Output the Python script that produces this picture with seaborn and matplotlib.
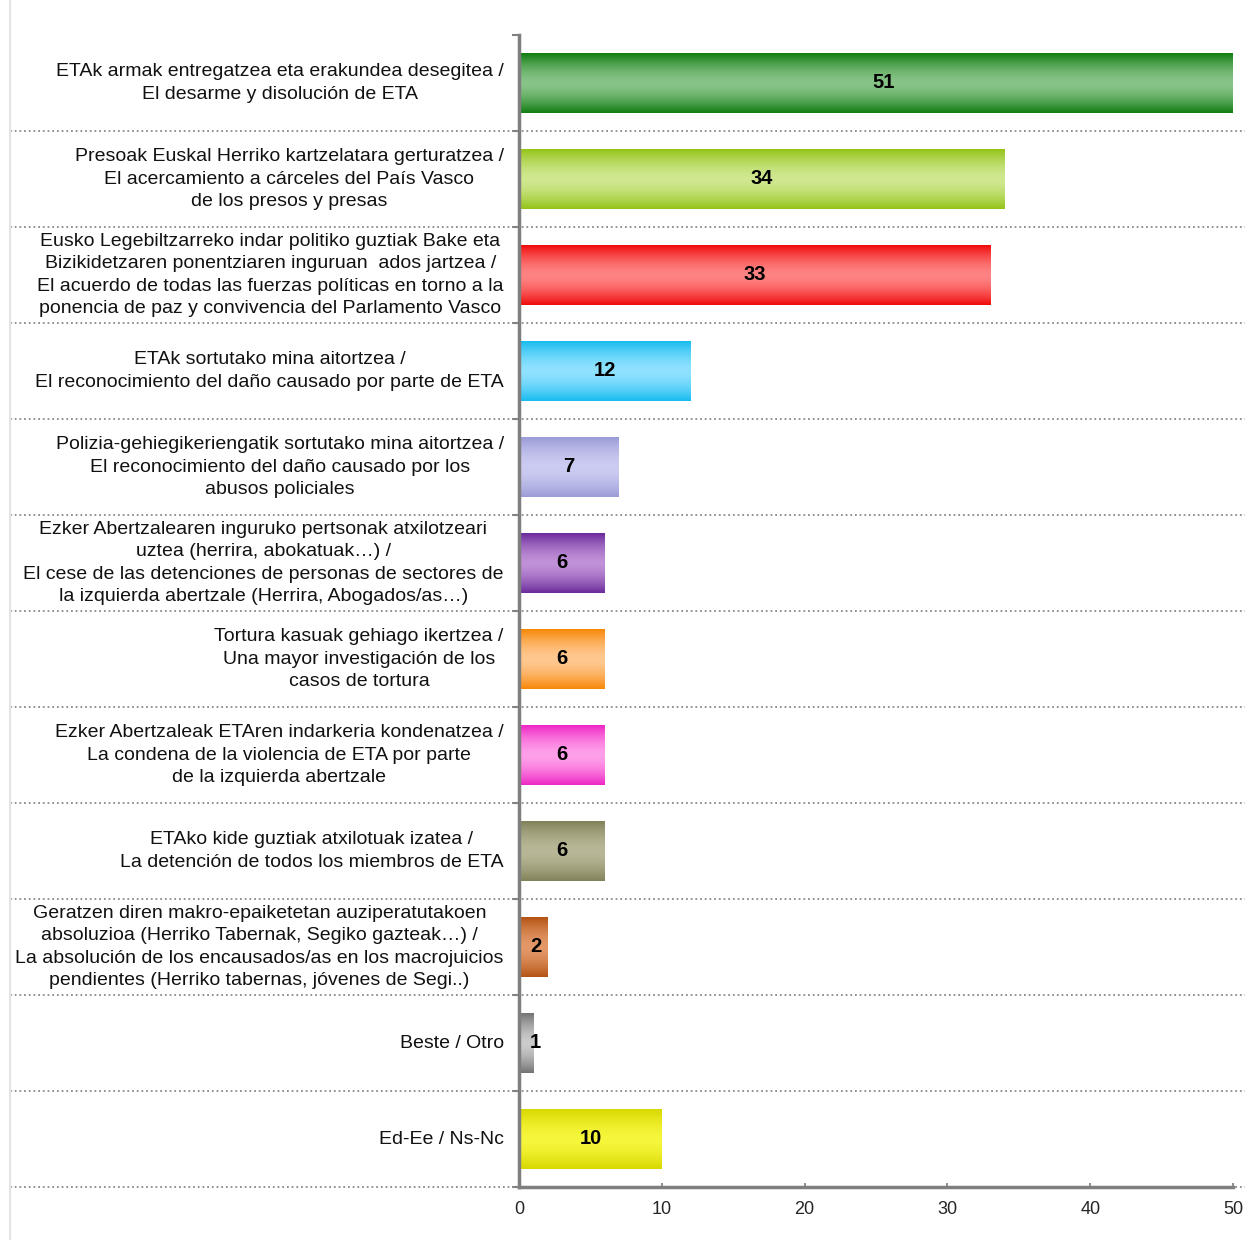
import numpy as np
import pandas as pd
import matplotlib
matplotlib.use("Agg")
import matplotlib.pyplot as plt
import matplotlib.colors as mcolors
from matplotlib.lines import Line2D
import seaborn as sns

# Datos
labels = [
    "ETAk armak entregatzea eta erakundea desegitea /\nEl desarme y disolución de ETA",
    "Presoak Euskal Herriko kartzelatara gerturatzea /\nEl acercamiento a cárceles del País Vasco\nde los presos y presas",
    "Eusko Legebiltzarreko indar politiko guztiak Bake eta\nBizikidetzaren ponentziaren inguruan  ados jartzea /\nEl acuerdo de todas las fuerzas políticas en torno a la\nponencia de paz y convivencia del Parlamento Vasco",
    "ETAk sortutako mina aitortzea /\nEl reconocimiento del daño causado por parte de ETA",
    "Polizia-gehiegikeriengatik sortutako mina aitortzea /\nEl reconocimiento del daño causado por los\nabusos policiales",
    "Ezker Abertzalearen inguruko pertsonak atxilotzeari\nuztea (herrira, abokatuak…) /\nEl cese de las detenciones de personas de sectores de\nla izquierda abertzale (Herrira, Abogados/as…)",
    "Tortura kasuak gehiago ikertzea /\nUna mayor investigación de los\ncasos de tortura",
    "Ezker Abertzaleak ETAren indarkeria kondenatzea /\nLa condena de la violencia de ETA por parte\nde la izquierda abertzale",
    "ETAko kide guztiak atxilotuak izatea /\nLa detención de todos los miembros de ETA",
    "Geratzen diren makro-epaiketetan auziperatutakoen\nabsoluzioa (Herriko Tabernak, Segiko gazteak…) /\nLa absolución de los encausados/as en los macrojuicios\npendientes (Herriko tabernas, jóvenes de Segi..)",
    "Beste / Otro",
    "Ed-Ee / Ns-Nc",
]
values = [51, 34, 33, 12, 7, 6, 6, 6, 6, 2, 1, 10]
x_ticks = [0, 10, 20, 30, 40, 50]

# colores: borde oscuro / centro claro
edge_colors = ["#127d12", "#94c418", "#f00c0c", "#18bcf0", "#9c9cd8", "#6c2c9c",
               "#f88808", "#ee28c4", "#82825a", "#b45414", "#747474", "#d8d800"]
center_colors = ["#88c488", "#d0e890", "#ff8484", "#90e2ff", "#ccccf2", "#c090d8",
                 "#ffc890", "#ffa0ea", "#b8b898", "#e49868", "#cccccc", "#f6f63c"]

df = pd.DataFrame({"label": labels, "value": values})

sns.set_theme(style="white")
plt.rcParams["font.family"] = ["Liberation Sans", "DejaVu Sans"]

fig = plt.figure(figsize=(12.47, 12.40), dpi=100)
ax = fig.add_axes([519 / 1247, 1 - 1187 / 1240, (1233 - 519) / 1247, (1187 - 35) / 1240])

sns.barplot(data=df, x="value", y="label", hue="label", palette=edge_colors,
            orient="h", width=0.62, legend=False, ax=ax, linewidth=0)

xmax = 50
ax.set_xlim(0, xmax)
ax.set_ylim(len(values) - 0.5, -0.5)

# degradado vertical en cada barra
n = 64
t = np.linspace(0, 1, n)
mix = 1 - np.abs(2 * t - 1) ** 1.6
for patch, ec, cc in zip(ax.patches, edge_colors, center_colors):
    e = np.array(mcolors.to_rgb(ec))
    c = np.array(mcolors.to_rgb(cc))
    grad = e[None, :] * (1 - mix[:, None]) + c[None, :] * mix[:, None]
    grad = grad[:, None, :]
    x0, y0 = patch.get_x(), patch.get_y()
    w, h = patch.get_width(), patch.get_height()
    x1 = min(x0 + w, xmax)
    ax.imshow(grad, extent=[x0, x1, y0 + h, y0], aspect="auto",
              interpolation="bilinear", zorder=2)

ax.set_xlim(0, xmax)
ax.set_ylim(len(values) - 0.5, -0.5)

# etiquetas de valor
for i, v in enumerate(values):
    ax.text(max(v / 2, 1.15), i, str(v), ha="center", va="center",
            fontsize=14.5, fontweight="bold", color="black", zorder=4)

# separadores punteados
for k in range(len(values)):
    ax.axhline(k + 0.5, xmin=-0.713, xmax=1.017, clip_on=False,
               color="#8a8a8a", lw=1.3, ls=(0, (1, 1.6)), zorder=1)

ax.set_xticks(x_ticks)
ax.set_xlabel("")
ax.set_ylabel("")
ax.tick_params(axis="x", labelsize=13, direction="in", length=3, color="#808080",
               pad=10, bottom=True)
ax.tick_params(axis="y", labelsize=14, length=0, pad=11)
ax.set_yticks(np.arange(-0.5, len(values), 1.0), minor=True)
ax.tick_params(axis="y", which="minor", length=5, width=1.5, color="#808080", left=True)
for lbl in ax.get_yticklabels():
    lbl.set_multialignment("center")
    lbl.set_linespacing(1.4)
    lbl.set_color("#111111")
    lbl.set_verticalalignment("center")

for s in ["top", "right"]:
    ax.spines[s].set_visible(False)
ax.spines["left"].set_color("#7f7f7f")
ax.spines["left"].set_linewidth(2.5)
ax.spines["bottom"].set_color("#7f7f7f")
ax.spines["bottom"].set_linewidth(2.5)
ax.spines["left"].set_zorder(5)

# borde izquierdo tenue
fig.add_artist(Line2D([10 / 1247, 10 / 1247], [0, 1], color="#e4e4e4", lw=1.5))

fig.savefig("out.png", dpi=100, facecolor="white")
